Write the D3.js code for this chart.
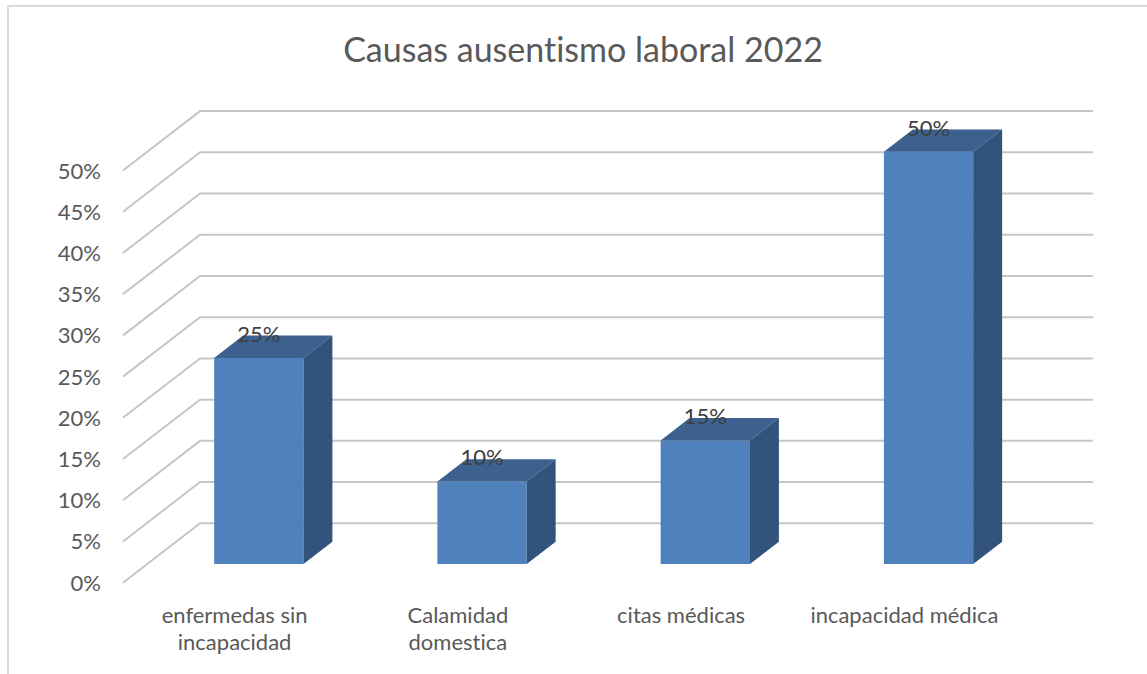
<!DOCTYPE html>
<html>
<head>
<meta charset="utf-8">
<script src="https://cdnjs.cloudflare.com/ajax/libs/d3/7.8.5/d3.min.js"></script>
<style>
    body { margin: 0; background: #fff; }
    svg { display: block; }
    text { font-family: Lato, "Open Sans", sans-serif; font-variant-ligatures: none; }
</style>
</head>
<body>
<svg id="chart" width="1147" height="674"></svg>
<script>
const title = "Causas ausentismo laboral 2022";
const categories = ["enfermedas sin incapacidad", "Calamidad domestica", "citas médicas", "incapacidad médica"];
const categoryLines = [["enfermedas sin", "incapacidad"], ["Calamidad", "domestica"], ["citas médicas"], ["incapacidad médica"]];
const values = [0.25, 0.10, 0.15, 0.50];
const tickValues = [0, 0.05, 0.10, 0.15, 0.20, 0.25, 0.30, 0.35, 0.40, 0.45, 0.50];

let svg = d3.select("#chart");

// chart frame (only left and top edges fall inside the picture)
svg.append("rect")
    .attr("x", 8).attr("y", 6)
    .attr("width", 1300).attr("height", 900)
    .attr("fill", "none")
    .attr("stroke", "#d9d9d9")
    .attr("stroke-width", 2);

svg.append("text")
    .attr("x", 583).attr("y", 62)
    .attr("text-anchor", "middle")
    .attr("font-size", 34)
    .attr("fill", "#595959")
    .text(title);

// front plane scales, the back wall is shifted by depth
const depth = {dx: 77, dy: -59.4};
const y = d3.scaleLinear().domain([0, 0.5]).range([582.7, 170.5]);
const x = d3.scaleBand().domain(categories).range([123, 1016]).paddingInner(0.6).paddingOuter(0.3);
const barFront = 0.314, barBack = 0.69; //fraction of depth where the bar box starts and ends

const fmt = d3.format(".0%");

// gridlines: side wall diagonal + back wall line
svg.append("g")
    .selectAll("path")
    .data(tickValues)
    .enter()
    .append("path")
    .attr("d", function (d) {
        const p = d3.path();
        p.moveTo(123, y(d));
        p.lineTo(123 + depth.dx, y(d) + depth.dy);
        p.lineTo(1016 + depth.dx, y(d) + depth.dy);
        return p.toString();
    })
    .attr("fill", "none")
    .attr("stroke", "#c6c6c6")
    .attr("stroke-width", 2);

svg.append("g")
    .selectAll("text")
    .data(tickValues)
    .enter()
    .append("text")
    .attr("x", 101)
    .attr("y", function (d) { return y(d) + 8; })
    .attr("text-anchor", "end")
    .attr("font-size", 22)
    .attr("fill", "#595959")
    .text(fmt);

// bars as 3d boxes
let bars = svg.append("g")
    .selectAll("g")
    .data(categories)
    .enter()
    .append("g");

function corner(i, f, v, side) {
    const x0 = x(categories[i]) + (side ? x.bandwidth() : 0);
    return [x0 + depth.dx * f, y(v) + depth.dy * f];
}

function poly(points) {
    return points.map(function (p) { return p.join(","); }).join(" ");
}

bars.append("polygon") // front
    .attr("points", function (d, i) {
        return poly([corner(i, barFront, 0, 0), corner(i, barFront, values[i], 0),
            corner(i, barFront, values[i], 1), corner(i, barFront, 0, 1)]);
    })
    .attr("fill", "#4f81bd");

bars.append("polygon") // top
    .attr("points", function (d, i) {
        return poly([corner(i, barFront, values[i], 0), corner(i, barBack, values[i], 0),
            corner(i, barBack, values[i], 1), corner(i, barFront, values[i], 1)]);
    })
    .attr("fill", "#3c618f");

bars.append("polygon") // right side
    .attr("points", function (d, i) {
        return poly([corner(i, barFront, 0, 1), corner(i, barFront, values[i], 1),
            corner(i, barBack, values[i], 1), corner(i, barBack, 0, 1)]);
    })
    .attr("fill", "#32537b");

bars.append("text")
    .attr("x", function (d, i) { return corner(i, barFront, values[i], 0)[0] + x.bandwidth() / 2; })
    .attr("y", function (d, i) { return corner(i, barBack, values[i], 0)[1] + 6; })
    .attr("text-anchor", "middle")
    .attr("font-size", 22)
    .attr("fill", "#404040")
    .text(function (d, i) { return fmt(values[i]); });

// category labels
let labels = svg.append("g")
    .selectAll("text")
    .data(categories)
    .enter()
    .append("text")
    .attr("text-anchor", "middle")
    .attr("font-size", 22)
    .attr("fill", "#595959");

labels.each(function (d, i) {
    const cx = x(d) + x.bandwidth() / 2;
    d3.select(this).selectAll("tspan")
        .data(categoryLines[i])
        .enter()
        .append("tspan")
        .attr("x", cx)
        .attr("y", function (line, j) { return 623 + j * 27; })
        .text(function (line) { return line; });
});
</script>
</body>
</html>
